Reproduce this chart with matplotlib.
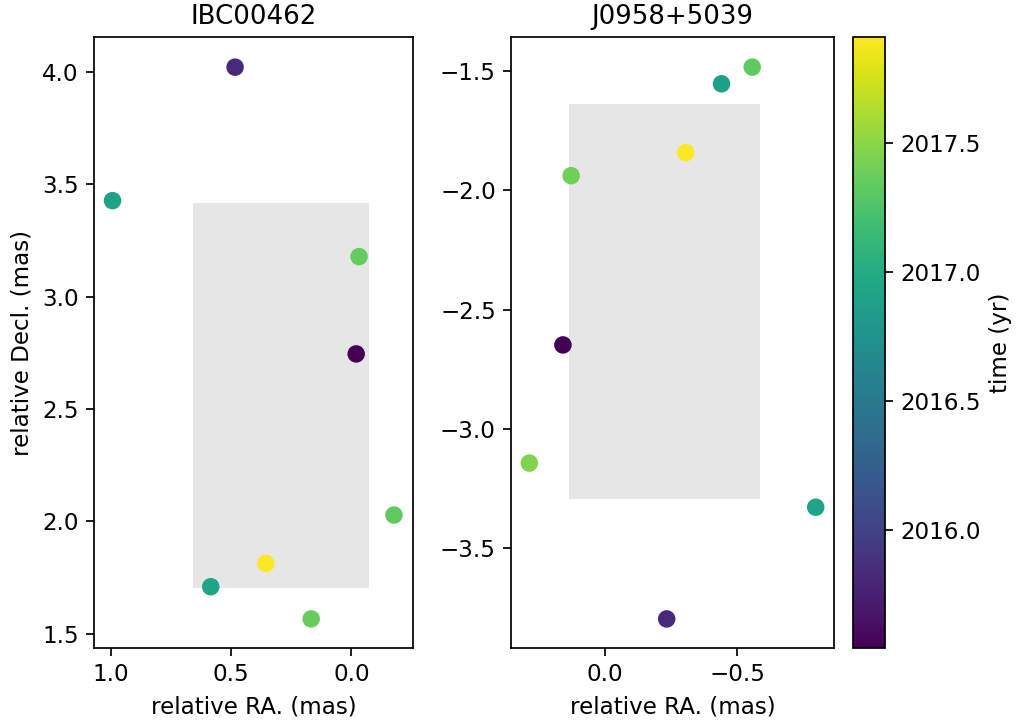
import matplotlib
matplotlib.use("Agg")
import matplotlib.pyplot as plt
from matplotlib.patches import Rectangle
from matplotlib.colors import Normalize

plt.rcParams["font.size"] = 10.6
plt.rcParams["axes.titlesize"] = 12

# epochs (yr), same for both sources
t_min, t_max = 2015.54, 2017.91

# IBC00462
ra1 = [0.483, 0.992, -0.032, -0.020, -0.177, 0.355, 0.584, 0.167]
dec1 = [4.021, 3.427, 3.178, 2.745, 2.028, 1.813, 1.709, 1.566]
t1 = [2015.82, 2016.90, 2017.35, 2015.54, 2017.33, 2017.91, 2016.92, 2017.36]
box1 = (0.657, -0.072, 1.705, 3.417)  # ra_hi, ra_lo, dec_lo, dec_hi

# J0958+5039
ra2 = [-0.556, -0.44, -0.305, 0.128, 0.159, 0.286, -0.796, -0.233]
dec2 = [-1.484, -1.554, -1.842, -1.939, -2.648, -3.143, -3.328, -3.796]
t2 = [2017.33, 2016.90, 2017.91, 2017.40, 2015.54, 2017.45, 2016.92, 2015.82]
box2 = (0.136, -0.586, -3.292, -1.638)

names = ["IBC00462", "J0958+5039"]

fig = plt.figure(figsize=(1016/156, 725/156), dpi=156)
ax1 = fig.add_axes([0.0925, 0.1058, 0.314, 0.8428])
ax2 = fig.add_axes([0.503, 0.1058, 0.3176, 0.8428])
cax = fig.add_axes([0.8396, 0.1058, 0.0315, 0.8428])

norm = Normalize(vmin=t_min, vmax=t_max)

for ax, ra, dec, t, box, name in [(ax1, ra1, dec1, t1, box1, names[0]),
                                  (ax2, ra2, dec2, t2, box2, names[1])]:
    r = Rectangle((box[1], box[2]), box[0] - box[1], box[3] - box[2],
                  facecolor="0.9", edgecolor="none", zorder=0)
    ax.add_patch(r)
    sc = ax.scatter(ra, dec, c=t, cmap="viridis", norm=norm, s=50, zorder=2)
    ax.set_title(name)
    ax.set_xlabel("relative RA. (mas)")

ax1.set_xlim(1.069, -0.256)
ax1.set_ylim(1.435, 4.154)
ax2.set_xlim(0.355, -0.864)
ax2.set_ylim(-3.919, -1.359)
ax1.set_ylabel("relative Decl. (mas)")

cb = fig.colorbar(sc, cax=cax)
cb.set_label("time (yr)")
cb.set_ticks([2016.0, 2016.5, 2017.0, 2017.5])

fig.savefig("out.png", dpi=156)
